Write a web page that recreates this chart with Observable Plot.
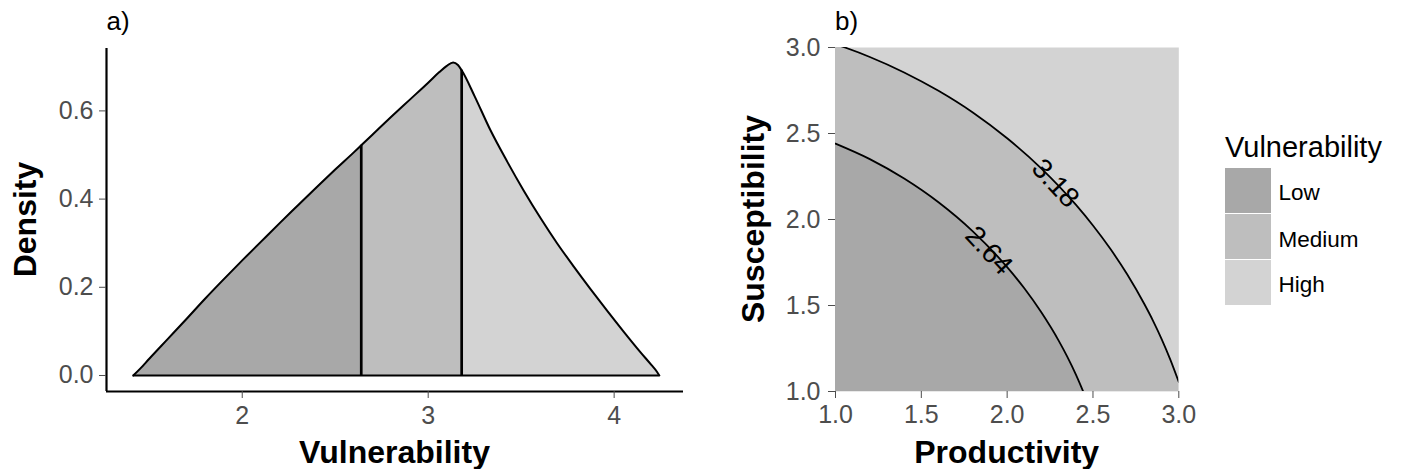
<!DOCTYPE html>
<html>
<head>
<meta charset="utf-8">
<script src="https://cdn.jsdelivr.net/npm/d3@7"></script>
<script src="https://cdn.jsdelivr.net/npm/@observablehq/plot@0.6"></script>
<style>
  html, body { margin: 0; padding: 0; background: #ffffff; }
  #wrap { position: relative; width: 1402px; height: 469px; background: #ffffff; overflow: hidden;
          font-family: "Liberation Sans", Arial, sans-serif; }
  #wrap > * { position: absolute; top: 0; }
  #overlay { left: 0; pointer-events: none; }
</style>
</head>
<body>
<div id="wrap"></div>
<script>
// ---------------- data ----------------
// a) density of vulnerability
const densityV = [1.414, 1.45, 1.50, 1.60, 1.70, 1.80, 1.90, 2.00, 2.10, 2.20, 2.30, 2.40, 2.50, 2.60, 2.64,
                  2.70, 2.80, 2.90, 3.00, 3.06, 3.10, 3.134, 3.16, 3.18, 3.25, 3.335, 3.425, 3.514, 3.604,
                  3.693, 3.783, 3.873, 3.962, 4.052, 4.141, 4.20, 4.231, 4.243];
const densityD = [0.000, 0.015, 0.038, 0.083, 0.128, 0.174, 0.218, 0.261, 0.303, 0.345, 0.386, 0.427, 0.467, 0.506, 0.522,
                  0.546, 0.586, 0.625, 0.664, 0.688, 0.702, 0.710, 0.704, 0.692, 0.633, 0.556, 0.485, 0.419, 0.357,
                  0.300, 0.247, 0.196, 0.147, 0.099, 0.053, 0.024, 0.008, 0.000];
const cutoffs = [2.64, 3.18];
const classes = ["Low", "Medium", "High"];
const xTicksA = [2, 3, 4];
const yTicksA = [0, 0.2, 0.4, 0.6];

// b) contour lines of vulnerability over productivity x susceptibility
const contourLevels = ["2.64", "3.18"];
const contour264P = [1.0, 1.2, 1.4, 1.6, 1.8, 2.0, 2.1, 2.2, 2.3, 2.35, 2.4, 2.443, 2.46];
const contour264S = [2.441, 2.351, 2.238, 2.100, 1.931, 1.723, 1.600, 1.459, 1.296, 1.203, 1.100, 1.0, 0.958];
const contour318P = [1.0, 1.055, 1.2, 1.4, 1.6, 1.8, 2.0, 2.2, 2.4, 2.5, 2.6, 2.7, 2.8, 2.85, 2.9, 2.95, 3.0];
const contour318S = [3.019, 3.0, 2.945, 2.855, 2.748, 2.622, 2.472, 2.296, 2.086, 1.965, 1.831, 1.680, 1.507, 1.411, 1.305, 1.187, 1.055];
const labelP = [1.893, 2.281];
const labelS = [1.819, 2.210];
const ticksB = [1.0, 1.5, 2.0, 2.5, 3.0];

// ---------------- styles ----------------
const classColors = ["#a8a8a8", "#bebebe", "#d3d3d3"];
const FONT = '"Liberation Sans", Arial, sans-serif';
const tickColor = "#4d4d4d";

// ---------------- panel a ----------------
const dens = densityV.map((v, i) => ({v, d: densityD[i]}));
const lowPts = dens.filter(p => p.v <= cutoffs[0]);
const medPts = dens.filter(p => p.v >= cutoffs[0] && p.v <= cutoffs[1]);
const highPts = dens.filter(p => p.v >= cutoffs[1]);
const cutData = cutoffs.map(c => dens.find(p => p.v === c));
const xDomainA = [1.270, 4.373];
const yDomainA = [-0.0363, 0.7415];

const plotA = Plot.plot({
  width: 700, height: 469,
  marginLeft: 106, marginRight: 17, marginTop: 48, marginBottom: 78,
  x: {domain: xDomainA},
  y: {domain: yDomainA},
  style: {fontFamily: FONT, background: "none", overflow: "visible"},
  marks: [
    Plot.areaY(lowPts, {x: "v", y: "d", fill: classColors[0], curve: "monotone-x"}),
    Plot.areaY(medPts, {x: "v", y: "d", fill: classColors[1], curve: "monotone-x"}),
    Plot.areaY(highPts, {x: "v", y: "d", fill: classColors[2], curve: "monotone-x"}),
    Plot.ruleY([0], {x1: densityV[0], x2: densityV[densityV.length - 1], stroke: "black", strokeWidth: 2}),
    Plot.lineY(dens, {x: "v", y: "d", stroke: "black", strokeWidth: 2, curve: "monotone-x", strokeLinejoin: "round"}),
    Plot.ruleX(cutData, {x: "v", y1: 0, y2: "d", stroke: "black", strokeWidth: 2.7}),
    Plot.ruleY([yDomainA[0]], {stroke: "black", strokeWidth: 2.2}),
    Plot.ruleX([xDomainA[0]], {stroke: "black", strokeWidth: 2.2}),
    Plot.axisX({ticks: xTicksA, tickSize: 7, tickPadding: 8, fontSize: 25, color: tickColor, label: null, tickFormat: d3.format("d")}),
    Plot.axisY({ticks: yTicksA, tickSize: 7, tickPadding: 6, fontSize: 25, color: tickColor, label: null, tickFormat: d3.format(".1f")})
  ]
});
plotA.style.left = "0px";

// ---------------- panel b ----------------
const c264 = contour264P.map((p, i) => ({p, s: contour264S[i]}));
const c318 = contour318P.map((p, i) => ({p, s: contour318S[i]}));
const labels = contourLevels.map((t, i) => ({t, p: labelP[i], s: labelS[i]}));

const plotB = Plot.plot({
  width: 702, height: 469,
  marginLeft: 135, marginRight: 223.7, marginTop: 47, marginBottom: 78,
  x: {domain: [ticksB[0], ticksB[ticksB.length - 1]]},
  y: {domain: [ticksB[0], ticksB[ticksB.length - 1]]},
  style: {fontFamily: FONT, background: "none", overflow: "visible"},
  marks: [
    Plot.frame({fill: classColors[2], stroke: "none"}),
    Plot.areaY(c318, {x: "p", y1: ticksB[0], y2: "s", fill: classColors[1], curve: "monotone-x", clip: true}),
    Plot.areaY(c264, {x: "p", y1: ticksB[0], y2: "s", fill: classColors[0], curve: "monotone-x", clip: true}),
    Plot.line(c318, {x: "p", y: "s", stroke: "black", strokeWidth: 1.8, curve: "monotone-x", clip: true}),
    Plot.line(c264, {x: "p", y: "s", stroke: "black", strokeWidth: 1.8, curve: "monotone-x", clip: true}),
    Plot.text(labels, {x: "p", y: "s", text: "t", rotate: 47, fontSize: 28, fill: "black"}),
    Plot.axisX({ticks: ticksB, tickSize: 7, tickPadding: 7, fontSize: 25, color: tickColor, label: null, tickFormat: d3.format(".1f")}),
    Plot.axisY({ticks: ticksB, tickSize: 7, tickPadding: 8, fontSize: 25, color: tickColor, label: null, tickFormat: d3.format(".1f")})
  ]
});
plotB.style.left = "700px";

const wrap = document.getElementById("wrap");
wrap.appendChild(plotA);
wrap.appendChild(plotB);

// ---------------- titles, tags and legend ----------------
const svg = d3.select(wrap).append("svg")
  .attr("id", "overlay").attr("width", 1402).attr("height", 469)
  .style("font-family", FONT);

function txt(x, y, s, size, opts = {}) {
  const t = svg.append("text").attr("x", x).attr("y", y).text(s)
    .attr("font-size", size).attr("fill", opts.fill || "black")
    .attr("text-anchor", opts.anchor || "start");
  if (opts.bold) t.attr("font-weight", "bold");
  if (opts.rotate) t.attr("transform", `rotate(${opts.rotate},${x},${y})`);
  return t;
}
txt(106.5, 30, "a)", 26);
txt(835, 30, "b)", 26);
txt(394.5, 463, "Vulnerability", 32, {bold: true, anchor: "middle"});
txt(36, 219.5, "Density", 32, {bold: true, anchor: "middle", rotate: -90});
txt(1006.7, 463, "Productivity", 32, {bold: true, anchor: "middle"});
txt(764, 219, "Susceptibility", 32, {bold: true, anchor: "middle", rotate: -90});

// legend
txt(1225, 157, "Vulnerability", 29);
const swTop = [168, 214, 260];
const lblBase = [200, 246.5, 291.5];
classes.forEach((c, i) => {
  svg.append("rect").attr("x", 1225).attr("y", swTop[i]).attr("width", 46).attr("height", 45).attr("fill", classColors[i]);
  txt(1278.5, lblBase[i], c, 22.5);
});
</script>
</body>
</html>
